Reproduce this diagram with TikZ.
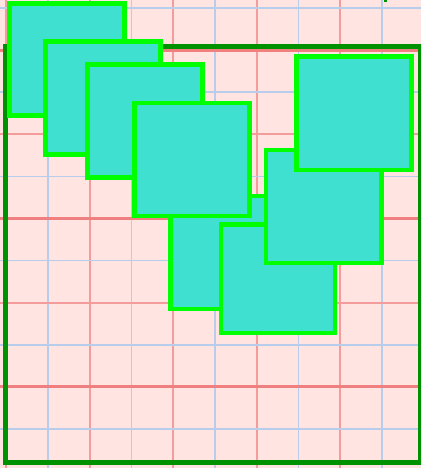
\documentclass[tikz,border=0pt]{standalone}
\usepackage{tikz}
\definecolor{bgpink}{RGB}{255,228,225}
\definecolor{gridblue}{RGB}{184,204,236}
\definecolor{gridred}{RGB}{244,156,156}
\definecolor{gridredthick}{RGB}{240,128,128}
\definecolor{borderdark}{RGB}{0,145,0}
\definecolor{boxline}{RGB}{0,255,0}
\definecolor{boxfill}{RGB}{64,224,208}
\tikzset{
  bluegrid/.style={draw=gridblue, line width=1.5pt},
  redgrid/.style={draw=gridred, line width=2pt},
  redgridthick/.style={draw=gridredthick, line width=3pt},
  frameline/.style={draw=borderdark, line width=4.5pt},
  sqbox/.style={draw=boxline, fill=boxfill, line width=4.5pt},
}
\begin{document}
\begin{tikzpicture}[x=1pt,y=-1pt]
\useasboundingbox (0,0) rectangle (421,468);
\begin{scope}
\clip (0,0) rectangle (421,468);
\fill[bgpink] (0,0) rectangle (421,468);
% vertical grid lines
\foreach \x in {47.75,131.25,214.75,298.25,381.75} \draw[bluegrid] (\x,0) -- (\x,468);
\foreach \x in {6,89.5,173,256.5,340} \draw[redgrid] (\x,0) -- (\x,468);
% horizontal grid lines
\foreach \y in {8,92.2,176.4,260.6,344.8,429} \draw[bluegrid] (0,\y) -- (421,\y);
\foreach \y in {134.3,302.7} \draw[redgrid] (0,\y) -- (421,\y);
\foreach \y in {50.1,218.5,386.9} \draw[redgridthick] (0,\y) -- (421,\y);
% frame
\draw[frameline] (5.5,46.5) rectangle (420,462.5);
\fill[borderdark] (384,0) rectangle (386.5,1.8);
% squares
\draw[sqbox] (9.5,3.5) rectangle (124.5,115.5);
\draw[sqbox] (45.5,41.5) rectangle (160.5,154.5);
\draw[sqbox] (87.5,64.5) rectangle (202.5,177.5);
\draw[sqbox] (170.5,196) rectangle (285.5,309);
\draw[sqbox] (134.5,103) rectangle (249.5,216);
\draw[sqbox] (221,224.7) rectangle (335,333.2);
\draw[sqbox] (266,150) rectangle (381.5,263);
\draw[sqbox] (296.5,56.5) rectangle (411.5,170);
\end{scope}
\end{tikzpicture}
\end{document}
